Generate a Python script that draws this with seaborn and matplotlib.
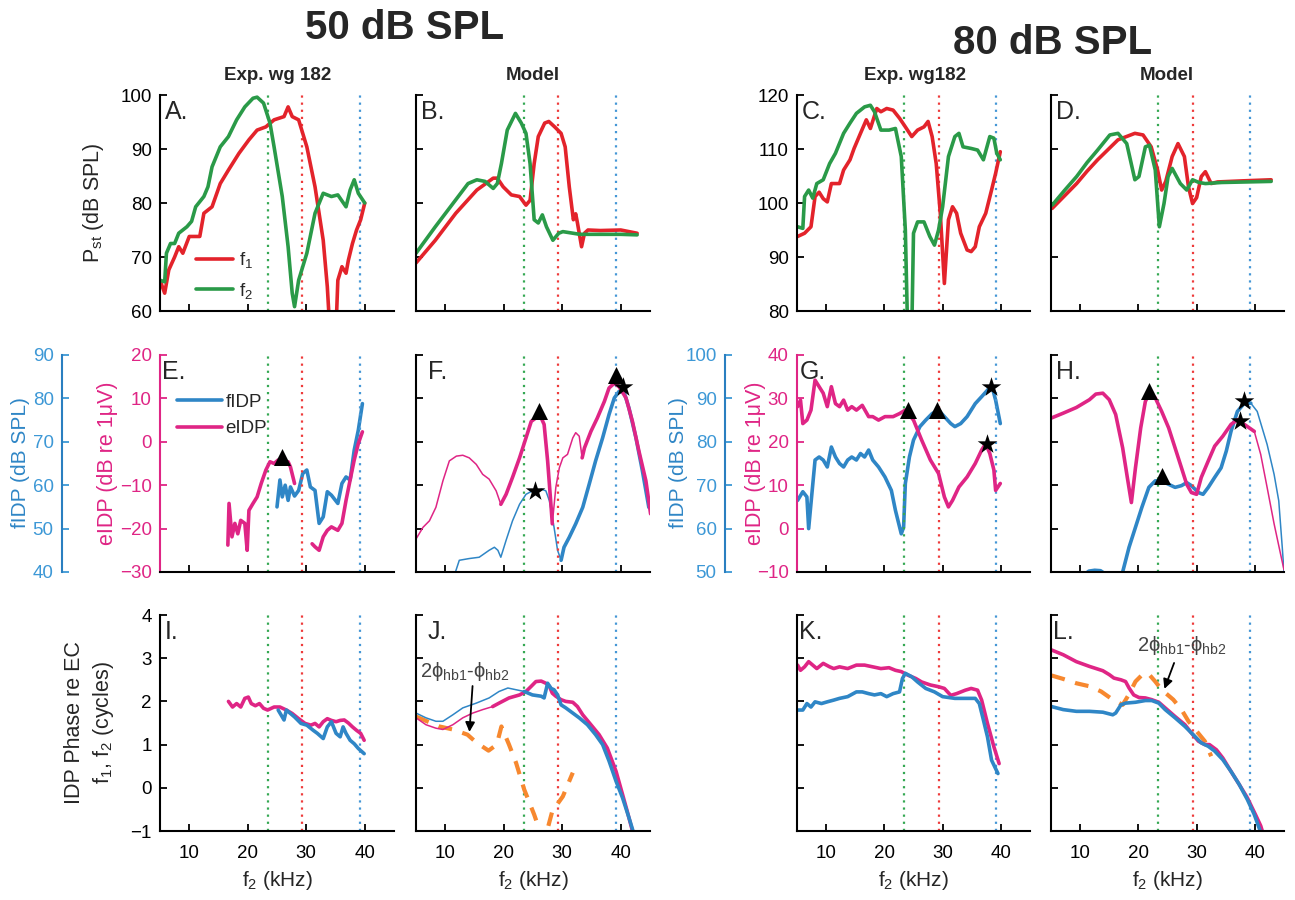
import numpy as np
import matplotlib
matplotlib.use("Agg")
import matplotlib.pyplot as plt
import seaborn as sb

# frequency markers (kHz): f2 at 50/80 dB, f1, 2f1-f2 region
mark_khz = [23.4, 29.3, 39.2]
mark_col = ['#35a853', '#ee3b3b', '#4597d6']

RED = '#e3232b'
GREEN = '#2a9a48'
BLUE = '#2f86c6'
BLUE_LBL = '#3d98d6'
PINK = '#df2585'
ORANGE = '#f7882f'

# ---------------- row 1 : Pst (dB SPL) ----------------
A_f2_x = [5.0, 5.8, 6.1, 6.8, 7.5, 8.2, 9.6, 10.4, 11.1, 12.5, 13.2, 13.9, 15.3, 16.7, 18.1, 19.5, 20.9, 21.6,
          22.7, 23.8, 24.5, 25.9, 26.9, 27.6, 28.0, 28.7, 30.1, 31.5, 32.9, 34.3, 35.4, 36.8, 37.5, 38.2, 38.9, 40.0]
A_f2_y = [65.7, 65.4, 70.7, 72.5, 72.5, 74.4, 75.6, 76.6, 79.3, 81.2, 83.0, 86.7, 90.4, 92.3, 95.4, 97.8, 99.4, 99.6,
          98.5, 94.8, 90.4, 81.2, 71.9, 63.3, 60.8, 65.7, 70.7, 78.1, 81.8, 81.2, 81.5, 79.3, 82.4, 84.3, 81.8, 80.0]
A_f1_x = [5.0, 5.8, 6.5, 7.5, 8.2, 8.9, 10.0, 11.8, 12.5, 13.9, 15.3, 16.7, 18.5, 20.2, 21.6, 23.1, 24.5, 26.2,
          26.9, 27.6, 28.7, 30.1, 31.5, 32.9, 33.6, 34.0, 35.1, 35.4, 36.1, 36.8, 37.2, 37.9, 38.6, 39.3, 40.0]
A_f1_y = [65.7, 63.3, 67.6, 70.0, 71.9, 70.7, 73.8, 73.8, 78.1, 79.3, 83.6, 86.1, 89.2, 91.7, 93.5, 94.1, 95.4, 96.0,
          97.8, 96.0, 95.4, 90.4, 83.0, 73.1, 64.5, 57.0, 57.0, 65.7, 68.2, 67.0, 69.4, 72.5, 75.0, 76.9, 80.0]

B_f2_x = [5.0, 8.3, 11.8, 13.9, 15.4, 16.8, 18.2, 18.9, 19.6, 20.6, 22.0, 23.0, 23.8, 24.5, 25.2, 25.9, 26.6, 27.3,
          28.4, 29.4, 30.1, 33.0, 40.0, 42.8]
B_f2_y = [70.7, 75.6, 80.6, 83.6, 84.3, 84.0, 82.7, 83.6, 87.3, 93.5, 96.6, 94.8, 92.9, 87.3, 76.9, 76.3, 77.8, 75.6,
          73.1, 74.4, 74.7, 74.2, 74.2, 74.1]
B_f1_x = [5.0, 8.3, 11.8, 15.4, 18.2, 18.9, 19.9, 21.3, 22.7, 23.8, 24.5, 25.2, 25.9, 27.0, 27.7, 28.7, 29.8, 30.5,
          31.2, 31.9, 32.3, 32.6, 33.3, 33.8, 34.4, 36.5, 40.0, 42.8]
B_f1_y = [68.9, 73.1, 78.1, 82.4, 84.6, 84.6, 83.0, 81.5, 81.2, 79.6, 80.5, 87.3, 92.3, 94.8, 95.1, 94.1, 92.9, 90.4,
          83.0, 76.9, 78.0, 76.3, 71.9, 74.4, 75.0, 74.9, 75.0, 74.4]

C_f2_x = [5.1, 6.0, 6.3, 7.0, 7.7, 8.4, 9.5, 10.6, 11.6, 13.0, 14.1, 15.2, 16.6, 17.6, 18.3, 19.4, 20.8, 21.9, 22.9,
          23.6, 24.0, 24.7, 25.0, 25.7, 26.8, 27.8, 28.6, 29.3, 30.0, 31.0, 32.1, 32.8, 33.5, 34.9, 36.0, 37.0,
          38.1, 38.8, 39.3, 39.9]
C_f2_y = [95.6, 95.3, 101.2, 102.4, 100.9, 103.6, 104.3, 107.3, 109.2, 112.9, 114.8, 116.6, 117.8, 118.1, 116.9,
          113.5, 113.5, 113.8, 108.6, 95.0, 76.0, 76.0, 94.4, 96.5, 96.5, 93.8, 92.2, 95.0, 99.3, 108.6, 112.3,
          112.9, 110.4, 110.1, 109.8, 108.0, 112.3, 112.0, 109.2, 108.0]
C_f1_x = [5.1, 6.3, 7.4, 8.1, 8.8, 9.5, 10.2, 10.9, 12.3, 13.0, 14.1, 14.8, 15.9, 16.9, 17.6, 18.7, 19.4, 20.4,
          21.5, 22.6, 23.6, 24.7, 25.7, 26.8, 27.5, 28.2, 28.9, 29.6, 30.3, 31.0, 31.7, 32.4, 33.1, 34.2, 34.9,
          35.6, 36.3, 37.4, 38.4, 39.1, 39.9]
C_f1_y = [93.8, 94.4, 95.6, 101.2, 102.0, 100.8, 100.2, 103.6, 103.6, 106.1, 108.0, 110.1, 112.9, 115.4, 113.8,
          117.5, 116.9, 117.5, 117.2, 115.7, 114.1, 112.3, 113.5, 114.1, 115.1, 112.3, 107.3, 98.1, 85.1, 96.9,
          99.3, 98.1, 94.4, 91.3, 91.0, 91.9, 95.6, 98.1, 102.4, 105.5, 109.5]

D_f2_x = [5.2, 7.3, 9.4, 11.2, 13.0, 15.1, 16.5, 18.0, 19.4, 20.1, 21.2, 21.9, 22.9, 23.6, 24.4, 25.1, 25.8, 27.2,
          28.3, 29.3, 30.4, 31.5, 34.3, 42.8]
D_f2_y = [99.6, 102.3, 104.9, 107.5, 109.8, 112.6, 112.9, 111.0, 104.3, 104.9, 110.4, 110.7, 106.1, 95.6, 99.9,
          104.9, 106.4, 103.6, 102.4, 104.3, 103.8, 103.6, 103.8, 104.0]
D_f1_x = [5.2, 7.3, 9.4, 11.2, 13.0, 16.5, 19.4, 20.8, 22.2, 23.3, 24.0, 24.7, 25.8, 26.8, 27.9, 28.6, 29.3, 30.0,
          30.8, 31.5, 32.5, 33.6, 37.9, 42.8]
D_f1_y = [99.0, 101.3, 103.6, 105.9, 108.0, 111.7, 112.9, 112.6, 110.4, 106.1, 102.4, 104.0, 108.6, 111.0, 108.6,
          103.0, 99.9, 101.0, 104.9, 105.8, 103.6, 103.9, 104.1, 104.3]

# ---------------- row 2 : eIDP (dB re 1uV) and fIDP (dB SPL) ----------------
E_e1_x = [16.6, 16.8, 17.3, 17.8, 18.3, 18.8, 19.5, 19.9, 20.2, 20.9, 21.6, 22.3, 23.1, 23.8, 24.5, 25.2, 25.9,
          26.9, 27.3, 28.0]
E_e1_y = [-23.8, -14.2, -21.9, -18.8, -21.2, -18.1, -18.8, -25.0, -15.8, -14.2, -12.7, -9.6, -6.5, -4.6, -5.0,
          -4.2, -4.6, -4.6, -5.8, -9.6]
E_e2_x = [31.0, 31.5, 32.2, 32.9, 33.6, 34.3, 35.4, 36.1, 36.8, 37.5, 38.2, 38.9, 39.6]
E_e2_y = [-23.5, -24.2, -25.0, -21.9, -20.4, -19.6, -20.4, -18.8, -13.5, -8.8, -4.2, -0.4, 2.3]
E_f_x = [25.0, 25.5, 25.9, 26.4, 26.9, 27.3, 28.0, 28.7, 29.4, 30.1, 30.7, 31.5, 32.2, 32.9, 33.6, 34.3, 35.4,
         36.1, 36.8, 37.5, 38.2, 38.9, 39.6]
E_f_y = [55.0, 61.2, 57.3, 60.0, 56.5, 59.6, 57.5, 58.8, 62.7, 63.5, 59.6, 58.8, 51.2, 52.7, 58.5, 57.7, 55.8,
         60.4, 61.9, 61.2, 68.1, 72.7, 78.8]
E_tri_x, E_tri_y = [25.9], [-3.5]

F_e_thin1_x = [5.0, 6.2, 7.3, 8.4, 9.6, 10.7, 11.9, 13.0, 14.1, 15.3, 16.4, 17.5, 18.7, 19.5]
F_e_thin1_y = [-22.4, -19.7, -18.2, -15.1, -9.0, -4.4, -3.3, -3.1, -3.7, -5.2, -7.5, -8.6, -11.3, -14.4]
F_e_thick1_x = [19.5, 20.4, 21.5, 22.7, 23.8, 24.7, 25.5, 26.4, 26.9, 27.5, 28.1, 28.3]
F_e_thick1_y = [-14.4, -12.1, -8.2, -3.7, 0.9, 4.7, 5.5, 5.5, 4.0, -4.4, -15.1, -18.9]
F_e_thin2_x = [28.3, 28.9, 29.5, 30.1, 30.9, 31.8, 32.3, 32.9, 33.4]
F_e_thin2_y = [-18.9, -10.5, -6.0, -3.7, -2.9, 0.9, 2.1, 1.3, -3.7]
F_e_thick2_x = [33.4, 33.8, 34.9, 36.0, 37.2, 38.0, 38.9, 39.7, 40.9, 42.0, 43.1, 44.3, 45.1]
F_e_thick2_y = [-3.7, -1.4, 2.4, 5.5, 9.3, 12.4, 13.5, 12.7, 10.1, 4.7, -2.1, -9.0, -16.6]
F_f_thin_x = [11.5, 12.4, 14.1, 15.8, 17.5, 18.4, 19.0, 19.5, 20.4, 21.5, 22.7, 23.8, 24.9, 25.5, 26.4, 27.2,
              27.8, 28.6, 29.2, 29.8]
F_f_thin_y = [39.0, 42.7, 43.1, 43.4, 45.0, 45.7, 45.0, 43.4, 47.3, 51.8, 55.6, 57.9, 58.7, 58.0, 59.1, 58.7,
              56.4, 50.3, 45.0, 42.7]
F_f_thick_x = [29.8, 30.3, 31.2, 32.3, 33.5, 34.6, 35.7, 36.9, 38.0, 38.9, 39.7, 40.6, 41.4, 42.6, 43.7, 44.8]
F_f_thick_y = [42.7, 45.7, 48.0, 51.1, 54.9, 60.2, 65.6, 70.9, 76.3, 80.1, 81.6, 81.3, 77.8, 70.9, 63.3, 54.9]
F_tri_x, F_tri_y = [26.1, 39.2], [7.0, 15.4]
F_star_x, F_star_y = [25.4, 40.3], [-11.3, 12.7]

G_e_x = [5.1, 5.6, 6.0, 6.7, 7.4, 8.1, 8.8, 9.5, 10.2, 10.9, 11.6, 12.3, 13.0, 13.7, 14.4, 15.2, 16.2, 17.3,
         18.0, 19.0, 20.1, 21.5, 22.6, 23.6, 25.0, 26.4, 27.9, 29.3, 30.3, 31.0, 31.7, 32.8, 34.2, 35.6, 36.7,
         37.4, 38.1, 38.8, 39.1, 39.9]
G_e_y = [28.1, 29.6, 24.2, 25.0, 27.3, 34.2, 32.7, 31.2, 28.1, 32.7, 28.8, 28.1, 29.6, 27.3, 28.1, 27.3, 28.4,
         25.8, 25.8, 25.0, 25.8, 25.8, 26.5, 27.3, 25.0, 20.4, 15.8, 12.7, 7.3, 5.0, 6.5, 9.6, 11.9, 15.0, 18.1,
         19.6, 17.3, 13.5, 8.8, 10.4]
G_f_x = [5.1, 6.0, 6.7, 7.0, 7.4, 8.1, 8.8, 9.5, 10.2, 10.9, 11.6, 12.3, 13.0, 13.7, 14.4, 15.2, 15.9, 16.6,
         17.3, 18.0, 19.0, 20.1, 21.2, 21.9, 22.9, 23.3, 23.6, 24.3, 25.0, 26.1, 27.1, 28.2, 29.3, 30.3, 31.4,
         32.1, 33.1, 34.2, 35.6, 36.7, 37.7, 38.4, 39.1, 39.9]
G_f_y = [66.5, 68.5, 67.3, 60.0, 65.8, 75.8, 76.5, 75.8, 74.2, 78.8, 76.5, 75.0, 74.2, 75.8, 76.5, 75.8, 77.3,
         76.5, 78.1, 75.8, 74.2, 71.9, 68.8, 64.2, 58.8, 60.3, 70.4, 76.5, 80.4, 83.5, 85.0, 86.5, 87.3, 85.8,
         84.2, 83.5, 84.2, 85.8, 88.8, 90.4, 91.9, 93.1, 89.6, 84.2]
G_tri_x, G_tri_y = [24.0, 29.1], [27.3, 27.3]
G_star_x, G_star_y = [38.3, 37.6], [32.7, 19.6]

H_e_x = [5.1, 7.1, 9.35, 11.6, 12.7, 13.9, 15.0, 16.1, 17.3, 18.1, 18.8, 19.5, 20.4, 21.2, 21.9, 22.9, 24.0,
         25.2, 26.3, 27.4, 28.3, 29.1, 30.0, 30.8, 32.0, 33.1, 34.5, 35.9, 37.0, 38.2, 39.9]
H_e_y = [25.5, 26.6, 27.9, 29.7, 31.0, 31.2, 29.7, 26.3, 18.6, 11.8, 6.0, 14.0, 23.2, 29.3, 31.2, 30.1, 27.0,
         23.2, 18.6, 14.0, 10.2, 8.3, 7.9, 11.8, 15.6, 19.0, 21.3, 24.0, 25.1, 24.0, 22.4]
H_e_thin_x = [39.9, 41.0, 42.1, 43.3, 44.4, 45.0]
H_e_thin_y = [22.4, 17.1, 9.5, 1.1, -5.8, -9.5]
H_f_x = [10.5, 11.5, 12.5, 13.5, 14.5, 15.5, 16.5, 17.3, 18.4, 19.5, 20.6, 21.8, 22.9, 24.0, 25.2, 26.3, 27.4,
         28.3, 29.1, 30.3, 31.1, 32.0, 33.1, 34.2, 35.1, 35.9, 37.0, 38.2, 39.3]
H_f_y = [49.2, 50.2, 50.4, 50.3, 49.4, 47.0, 47.5, 50.0, 55.7, 60.3, 64.9, 69.5, 71.0, 71.0, 70.2, 69.5, 69.9,
         70.6, 69.9, 68.3, 67.9, 69.5, 71.8, 74.0, 77.9, 82.4, 87.0, 88.9, 88.9]
H_f_thin_x = [39.3, 40.4, 42.1, 43.3, 44.1, 44.7, 45.0]
H_f_thin_y = [88.9, 87.0, 79.4, 72.5, 66.4, 55.7, 50.0]
H_tri_x, H_tri_y = [21.9, 24.0], [31.6, 12.1]
H_star_x, H_star_y = [38.2, 37.4], [29.3, 24.7]

# ---------------- row 3 : IDP phase (cycles) ----------------
I_e_x = [16.7, 17.4, 18.1, 18.8, 19.5, 20.1, 20.6, 21.3, 22.0, 22.7, 23.4, 24.5, 25.5, 26.6, 27.6, 28.7, 29.8,
         30.8, 31.5, 32.2, 32.9, 33.6, 34.3, 35.1, 35.8, 36.5, 37.2, 37.9, 38.6, 39.3, 39.9]
I_e_y = [2.0, 1.87, 1.95, 1.87, 2.07, 2.1, 1.95, 1.9, 1.95, 1.84, 1.8, 1.87, 1.87, 1.8, 1.72, 1.6, 1.49, 1.45,
         1.49, 1.41, 1.53, 1.6, 1.56, 1.53, 1.56, 1.57, 1.5, 1.41, 1.33, 1.26, 1.1]
I_f_x = [25.2, 25.9, 26.2, 26.6, 27.3, 28.0, 29.1, 30.1, 31.2, 31.9, 32.9, 33.6, 34.3, 35.1, 35.8, 36.3, 36.8,
         37.5, 38.2, 38.9, 39.9]
I_f_y = [1.8, 1.64, 1.57, 1.8, 1.72, 1.64, 1.49, 1.45, 1.33, 1.26, 1.14, 1.41, 1.53, 1.26, 1.18, 1.41, 1.26,
         1.1, 1.02, 0.91, 0.79]

J_f_thin_x = [5.0, 6.7, 8.4, 9.6, 11.3, 13.0, 15.3, 17.5, 19.2, 20.7, 22.1, 23.5]
J_f_thin_y = [1.73, 1.62, 1.54, 1.54, 1.69, 1.85, 1.96, 2.08, 2.23, 2.31, 2.27, 2.23]
J_f_x = [23.5, 24.9, 26.4, 26.9, 27.5, 28.1, 28.6, 29.2, 29.8, 30.6, 31.8, 32.9, 34.3, 35.7, 36.9, 38.0, 39.2,
         40.3, 41.4, 42.1, 42.6]
J_f_y = [2.23, 2.15, 2.12, 2.08, 2.42, 2.3, 2.27, 2.15, 1.92, 1.85, 1.73, 1.62, 1.46, 1.23, 1.0, 0.62, 0.15,
         -0.23, -0.69, -1.0, -1.3]
J_e_thin_x = [5.0, 6.7, 8.4, 9.6, 11.3, 13.0, 14.7, 16.4, 18.1]
J_e_thin_y = [1.62, 1.46, 1.38, 1.35, 1.46, 1.62, 1.73, 1.81, 1.88]
J_e_x = [18.1, 19.2, 20.9, 22.7, 23.8, 24.7, 25.5, 26.4, 27.2, 27.8, 28.3, 28.9, 29.8, 30.6, 31.8, 32.6, 33.5,
         34.9, 36.3, 37.7, 39.2, 40.3, 41.1, 42.0, 42.5]
J_e_y = [1.88, 1.96, 2.08, 2.15, 2.23, 2.35, 2.46, 2.47, 2.42, 2.35, 2.19, 2.12, 2.04, 2.0, 1.98, 1.88, 1.69,
         1.46, 1.23, 0.92, 0.38, -0.15, -0.54, -1.0, -1.3]
J_hb_x = [5.0, 6.7, 9.0, 11.3, 13.8, 15.3, 17.4, 18.8, 19.6, 20.9, 22.1, 23.5, 25.2, 26.3, 27.0, 28.3, 30.1, 31.8]
J_hb_y = [1.65, 1.55, 1.42, 1.35, 1.23, 1.05, 0.86, 1.0, 1.42, 1.0, 0.58, -0.04, -0.62, -1.05, -1.2, -0.54,
          -0.2, 0.35]

K_e_x = [5.1, 5.6, 6.3, 7.0, 7.7, 8.4, 9.5, 10.6, 11.3, 12.3, 13.7, 15.2, 16.6, 18.0, 19.4, 20.8, 21.9, 22.9,
         24.0, 25.4, 26.4, 27.9, 29.3, 30.3, 31.4, 32.4, 33.9, 34.9, 36.0, 36.7, 37.7, 38.8, 39.7]
K_e_y = [2.84, 2.72, 2.80, 2.92, 2.84, 2.76, 2.88, 2.80, 2.76, 2.80, 2.76, 2.84, 2.84, 2.80, 2.76, 2.78, 2.72,
         2.69, 2.61, 2.53, 2.45, 2.38, 2.34, 2.30, 2.14, 2.18, 2.26, 2.30, 2.26, 2.03, 1.49, 0.95, 0.56]
K_f_x = [5.1, 6.0, 6.7, 7.4, 8.1, 9.2, 10.2, 11.3, 12.3, 13.7, 15.2, 16.2, 17.3, 18.3, 19.4, 20.4, 21.5, 22.6,
         23.1, 23.6, 24.7, 25.7, 27.1, 28.6, 30.0, 32.1, 34.2, 35.6, 36.3, 37.0, 37.7, 38.4, 39.5]
K_f_y = [1.80, 1.80, 1.95, 1.87, 1.99, 1.95, 1.99, 2.03, 2.07, 2.11, 2.22, 2.22, 2.18, 2.15, 2.18, 2.11, 2.18,
         2.22, 2.53, 2.65, 2.57, 2.45, 2.30, 2.22, 2.11, 2.07, 2.07, 2.07, 1.95, 1.57, 1.18, 0.64, 0.33]

L_e_x = [5.1, 7.1, 9.35, 11.6, 13.9, 15.0, 15.8, 17.0, 17.8, 18.4, 19.2, 20.1, 21.2, 22.3, 23.5, 24.6, 26.3,
         28.0, 29.1, 30.3, 31.4, 32.2, 33.4, 34.5, 35.9, 37.3, 38.7, 40.1, 41.0, 41.5]
L_e_y = [3.19, 3.08, 2.92, 2.81, 2.71, 2.62, 2.54, 2.5, 2.46, 2.31, 2.15, 2.09, 2.08, 2.04, 1.98, 1.85, 1.65,
         1.46, 1.27, 1.08, 1.0, 1.0, 0.88, 0.69, 0.38, 0.08, -0.23, -0.62, -0.88, -1.1]
L_f_x = [5.1, 7.1, 9.35, 11.6, 13.9, 15.6, 16.1, 17.0, 17.8, 19.5, 21.2, 22.3, 23.5, 24.6, 26.3, 28.0, 29.4,
         30.8, 32.0, 33.1, 34.5, 35.9, 37.3, 38.7, 39.9, 40.7, 41.2]
L_f_y = [1.88, 1.81, 1.77, 1.77, 1.75, 1.69, 1.73, 1.92, 1.96, 1.98, 2.02, 2.02, 1.96, 1.81, 1.62, 1.42, 1.23,
         1.04, 0.96, 0.85, 0.65, 0.38, 0.08, -0.27, -0.62, -0.92, -1.1]
L_hb_x = [5.1, 7.1, 9.35, 11.6, 13.6, 15.6, 17.3, 18.5, 19.5, 20.9, 21.8, 22.9, 24.0, 26.0, 27.4, 28.6, 30.0,
          31.4, 32.5]
L_hb_y = [2.6, 2.52, 2.42, 2.35, 2.23, 2.04, 1.92, 2.19, 2.46, 2.65, 2.63, 2.46, 2.27, 2.04, 1.81, 1.54, 1.31,
          1.08, 0.73]

# ---------------- drawing ----------------
sb.set_style("ticks")
plt.rcParams['font.family'] = ['Liberation Sans Narrow', 'Liberation Sans', 'DejaVu Sans']
plt.rcParams['mathtext.fontset'] = 'custom'
plt.rcParams['mathtext.rm'] = 'Liberation Sans'
plt.rcParams['mathtext.it'] = 'Liberation Sans:italic'

W, H = 1295, 900
fig = plt.figure(figsize=(W / 100, H / 100), dpi=100)

cols = [(160, 394), (416, 650), (797, 1030), (1051, 1284)]
rows = [(95, 311), (355, 572), (615, 831)]


def box(c, r):
    l, rr = cols[c]
    t, b = rows[r]
    return fig.add_axes([l / W, 1 - b / H, (rr - l) / W, (b - t) / H])


def line(ax, x, y, c, lw, **kw):
    sb.lineplot(x=x, y=y, ax=ax, color=c, linewidth=lw, sort=False, estimator=None, legend=False, **kw)


def style(ax, ylim, yticks, ylabels=True, xlabels=False, ycol='black'):
    ax.set_xlim(5, 45)
    ax.set_ylim(*ylim)
    ax.set_xticks([10, 20, 30, 40])
    ax.set_yticks(yticks)
    ax.tick_params(direction='in', length=5, width=1.3, labelsize=13.5)
    ax.tick_params(axis='x', pad=10, labelbottom=xlabels)
    ax.tick_params(axis='y', pad=6, labelleft=ylabels, colors=ycol)
    for s in ['top', 'right']:
        ax.spines[s].set_visible(False)
    for s in ['left', 'bottom']:
        ax.spines[s].set_linewidth(1.5)
    ax.spines['left'].set_color(ycol)
    ax.spines['bottom'].set_color('black')
    ax.tick_params(axis='x', colors='black')
    for k, c in zip(mark_khz, mark_col):
        ax.axvline(k, color=c, lw=1.6, linestyle=(0, (1, 2.2)), zorder=1)
    if xlabels:
        ax.set_xlabel('f$_2$ (kHz)', fontsize=15, labelpad=5)


def letter(ax, s, x=0.02):
    ax.text(x, 0.975, s, transform=ax.transAxes, fontsize=18, va='top', ha='left')


def twin(ax, ylim, yticks, pos=None):
    tw = ax.twinx()
    tw.set_ylim(*ylim)
    tw.set_yticks(yticks)
    tw.set_xlim(5, 45)
    for s in ['top', 'right', 'bottom']:
        tw.spines[s].set_visible(False)
    if pos is None:
        tw.spines['left'].set_visible(False)
        tw.tick_params(axis='y', left=False, right=False, labelleft=False, labelright=False)
    else:
        tw.spines['left'].set_visible(True)
        tw.spines['left'].set_position(('axes', pos))
        tw.spines['left'].set_color('#2a7fc0')
        tw.spines['left'].set_linewidth(1.5)
        tw.yaxis.set_ticks_position('left')
        tw.yaxis.set_label_position('left')
        tw.tick_params(axis='y', direction='in', length=5, width=1.3, labelsize=13.5, pad=6,
                       colors=BLUE_LBL, left=True, right=False, labelleft=True, labelright=False)
    ax.set_zorder(tw.get_zorder() + 1)
    ax.patch.set_visible(False)
    return tw


TH, TN = 2.6, 1.1

# row 1
ax = box(0, 0)
line(ax, A_f1_x, A_f1_y, RED, TH, label='f$_1$')
line(ax, A_f2_x, A_f2_y, GREEN, TH, label='f$_2$')
style(ax, (60, 100), [60, 70, 80, 90, 100])
letter(ax, 'A.')
ax.legend(loc='lower left', bbox_to_anchor=(0.08, -0.03), frameon=False, fontsize=13.5,
          handlelength=2.0, handletextpad=0.3, labelspacing=0.55)

ax = box(1, 0)
line(ax, B_f1_x, B_f1_y, RED, TH)
line(ax, B_f2_x, B_f2_y, GREEN, TH)
style(ax, (60, 100), [60, 70, 80, 90, 100], ylabels=False)
letter(ax, 'B.')

ax = box(2, 0)
line(ax, C_f1_x, C_f1_y, RED, TH)
line(ax, C_f2_x, C_f2_y, GREEN, TH)
style(ax, (80, 120), [80, 90, 100, 110, 120])
letter(ax, 'C.')

ax = box(3, 0)
line(ax, D_f1_x, D_f1_y, RED, TH)
line(ax, D_f2_x, D_f2_y, GREEN, TH)
style(ax, (80, 120), [80, 90, 100, 110, 120], ylabels=False)
letter(ax, 'D.')

# row 2
ax = box(0, 1)
tw = twin(ax, (40, 90), [40, 50, 60, 70, 80, 90], pos=(62 - 160) / 234)
line(tw, E_f_x, E_f_y, BLUE, TH, label='fIDP')
line(ax, E_e1_x, E_e1_y, PINK, TH, label='eIDP')
line(ax, E_e2_x, E_e2_y, PINK, TH)
sb.scatterplot(x=E_tri_x, y=E_tri_y, ax=ax, marker='^', s=150, color='black', linewidth=0, zorder=6, legend=False)
style(ax, (-30, 20), [-30, -20, -10, 0, 10, 20], ycol=PINK)
letter(ax, 'E.', 0.01)
h1, l1 = tw.get_legend_handles_labels()
h2, l2 = ax.get_legend_handles_labels()
ax.legend(h1 + h2[:1], l1 + l2[:1], loc='upper left', bbox_to_anchor=(0.0, 0.9), frameon=False,
          fontsize=13.5, handlelength=2.4, handletextpad=0.2, labelspacing=0.5)

ax = box(1, 1)
tw = twin(ax, (40, 90), [40, 50, 60, 70, 80, 90])
line(tw, F_f_thin_x, F_f_thin_y, BLUE, TN)
line(tw, F_f_thick_x, F_f_thick_y, BLUE, TH)
line(ax, F_e_thin1_x, F_e_thin1_y, PINK, TN)
line(ax, F_e_thick1_x, F_e_thick1_y, PINK, TH)
line(ax, F_e_thin2_x, F_e_thin2_y, PINK, TN)
line(ax, F_e_thick2_x, F_e_thick2_y, PINK, TH)
sb.scatterplot(x=F_tri_x, y=F_tri_y, ax=ax, marker='^', s=150, color='black', linewidth=0, zorder=6, legend=False)
sb.scatterplot(x=F_star_x, y=F_star_y, ax=ax, marker='*', s=220, color='black', linewidth=0, zorder=6, legend=False)
style(ax, (-30, 20), [-30, -20, -10, 0, 10, 20], ylabels=False)
letter(ax, 'F.', 0.05)

ax = box(2, 1)
tw = twin(ax, (50, 100), [50, 60, 70, 80, 90, 100], pos=(725 - 797) / 233)
line(tw, G_f_x, G_f_y, BLUE, TH)
line(ax, G_e_x, G_e_y, PINK, TH)
sb.scatterplot(x=G_tri_x, y=G_tri_y, ax=ax, marker='^', s=150, color='black', linewidth=0, zorder=6, legend=False)
sb.scatterplot(x=G_star_x, y=G_star_y, ax=ax, marker='*', s=220, color='black', linewidth=0, zorder=6, legend=False)
style(ax, (-10, 40), [-10, 0, 10, 20, 30, 40], ycol=PINK)
letter(ax, 'G.', 0.01)

ax = box(3, 1)
tw = twin(ax, (50, 100), [50, 60, 70, 80, 90, 100])
line(tw, H_f_x, H_f_y, BLUE, TH)
line(tw, H_f_thin_x, H_f_thin_y, BLUE, TN)
line(ax, H_e_x, H_e_y, PINK, TH)
line(ax, H_e_thin_x, H_e_thin_y, PINK, TN)
sb.scatterplot(x=H_tri_x, y=H_tri_y, ax=ax, marker='^', s=150, color='black', linewidth=0, zorder=6, legend=False)
sb.scatterplot(x=H_star_x, y=H_star_y, ax=ax, marker='*', s=220, color='black', linewidth=0, zorder=6, legend=False)
style(ax, (-10, 40), [-10, 0, 10, 20, 30, 40], ylabels=False)
letter(ax, 'H.')

# row 3
hb_txt = '2ϕ$_{\\rm hb1}$-ϕ$_{\\rm hb2}$'

ax = box(0, 2)
line(ax, I_e_x, I_e_y, PINK, TH)
line(ax, I_f_x, I_f_y, BLUE, TH)
style(ax, (-1, 4), [-1, 0, 1, 2, 3, 4], xlabels=True)
letter(ax, 'I.')

ax = box(1, 2)
line(ax, J_hb_x, J_hb_y, ORANGE, 3.0, linestyle=(0, (3.3, 2.6)))
line(ax, J_e_thin_x, J_e_thin_y, PINK, TN)
line(ax, J_e_x, J_e_y, PINK, TH)
line(ax, J_f_thin_x, J_f_thin_y, BLUE, TN)
line(ax, J_f_x, J_f_y, BLUE, TH)
style(ax, (-1, 4), [-1, 0, 1, 2, 3, 4], ylabels=False, xlabels=True)
letter(ax, 'J.', 0.05)
ax.text(5.7, 2.69, hb_txt, fontsize=14.5, color='#444444', va='center', ha='left')
ax.annotate('', xy=(14.1, 1.23), xytext=(14.7, 2.42),
            arrowprops=dict(arrowstyle='-|>', color='black', lw=1.3, mutation_scale=14))

ax = box(2, 2)
line(ax, K_e_x, K_e_y, PINK, TH)
line(ax, K_f_x, K_f_y, BLUE, TH)
style(ax, (-1, 4), [-1, 0, 1, 2, 3, 4], ylabels=False, xlabels=True)
letter(ax, 'K.', 0.01)

ax = box(3, 2)
line(ax, L_hb_x, L_hb_y, ORANGE, 3.0, linestyle=(0, (3.3, 2.6)))
line(ax, L_e_x, L_e_y, PINK, TH)
line(ax, L_f_x, L_f_y, BLUE, TH)
style(ax, (-1, 4), [-1, 0, 1, 2, 3, 4], ylabels=False, xlabels=True)
letter(ax, 'L.', 0.01)
ax.text(19.8, 3.3, hb_txt, fontsize=14.5, color='#444444', va='center', ha='left')
ax.annotate('', xy=(24.3, 2.23), xytext=(26.3, 2.95),
            arrowprops=dict(arrowstyle='-|>', color='black', lw=1.3, mutation_scale=14))

# figure texts
def ftext(x, y, s, **kw):
    fig.text(x / W, 1 - y / H, s, ha='center', va='center', **kw)


ftext(405, 28, '50 dB SPL', fontsize=29, fontweight='bold')
ftext(1053, 43, '80 dB SPL', fontsize=29, fontweight='bold')
ftext(278, 76, 'Exp. wg 182', fontsize=13.5, fontweight='bold')
ftext(533, 76, 'Model', fontsize=13.5, fontweight='bold')
ftext(915, 76, 'Exp. wg182', fontsize=13.5, fontweight='bold')
ftext(1167, 76, 'Model', fontsize=13.5, fontweight='bold')

ftext(93, 203, 'P$_{\\rm st}$ (dB SPL)', fontsize=15.5, rotation=90)
ftext(21, 463, 'fIDP (dB SPL)', fontsize=15, rotation=90, color=BLUE)
ftext(107, 463, 'eIDP (dB re 1μV)', fontsize=15.5, rotation=90, color=PINK)
ftext(678, 463, 'fIDP (dB SPL)', fontsize=15, rotation=90, color=BLUE)
ftext(756, 463, 'eIDP (dB re 1μV)', fontsize=15.5, rotation=90, color=PINK)
ftext(75, 723, 'IDP Phase re EC', fontsize=15.5, rotation=90)
ftext(104, 723, 'f$_1$, f$_2$ (cycles)', fontsize=15.5, rotation=90)

fig.savefig('out.png', dpi=100)
